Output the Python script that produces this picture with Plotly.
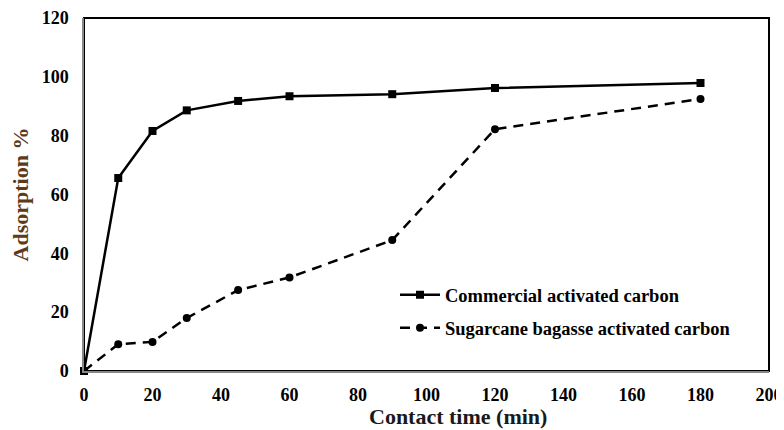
import plotly.graph_objects as go

time_min = [0, 10, 20, 30, 45, 60, 90, 120, 180]
commercial = [0, 65.6, 81.6, 88.6, 91.8, 93.4, 94.1, 96.2, 97.9]
sugarcane = [0, 9.1, 9.9, 18.0, 27.5, 31.8, 44.5, 82.2, 92.5]
series_names = ["Commercial activated carbon", "Sugarcane bagasse activated carbon"]
x_ticks = [0, 20, 40, 60, 80, 100, 120, 140, 160, 180, 200]
y_ticks = [0, 20, 40, 60, 80, 100, 120]
x_title = "Contact time (min)"
y_title = "Adsorption %"

font_family = "Liberation Serif, Times New Roman, serif"

fig = go.Figure()
fig.add_trace(go.Scatter(
    x=time_min, y=commercial, name=series_names[0], mode="lines+markers",
    legendgroup="a",
    line=dict(color="black", width=2.5),
    marker=dict(symbol="square", size=8, color="black"),
    cliponaxis=False,
))
fig.add_trace(go.Scatter(
    x=time_min, y=sugarcane, name=series_names[1], mode="lines+markers",
    legendgroup="b",
    line=dict(color="black", width=2.5, dash="10px,7px"),
    marker=dict(symbol="circle", size=8, color="black"),
    cliponaxis=False,
))

fig.add_shape(type="rect", xref="paper", yref="paper", x0=0, y0=0, x1=1, y1=1,
              line=dict(color="black", width=2), layer="below")

fig.add_annotation(
    text=x_title, xref="paper", yref="paper", x=0.546, y=-0.128,
    xanchor="center", yanchor="middle", showarrow=False,
    font=dict(family=font_family, size=22, color="#1a1a1a", weight="bold"),
)

# the page body has an 8px default margin, so the figure is sized/offset for it
fig.update_layout(
    width=776, height=422,
    margin=dict(l=76, r=15, t=10, b=59),
    paper_bgcolor="white", plot_bgcolor="white",
    font=dict(family=font_family, color="black", size=18),
    showlegend=True,
    legend=dict(
        x=0.454, y=0.168, xanchor="left", yanchor="middle",
        font=dict(family=font_family, size=18.5, color="black", weight="bold"),
        bgcolor="rgba(0,0,0,0)", tracegroupgap=6, itemwidth=40,
    ),
)
fig.update_xaxes(
    range=[0, 200], tickvals=x_ticks, ticktext=[str(v) for v in x_ticks],
    showgrid=False, zeroline=False, showline=True, linecolor="#888888", linewidth=1.5,
    ticks="", automargin=False, ticklabelstandoff=7,
    tickfont=dict(family=font_family, size=18, color="black", weight="bold"),
)
fig.update_yaxes(
    range=[0, 120], tickvals=y_ticks, ticktext=[str(v) for v in y_ticks],
    showgrid=False, zeroline=False, showline=True, linecolor="#888888", linewidth=1.5,
    ticks="", ticklabelstandoff=10, automargin=False,
    tickfont=dict(family=font_family, size=18, color="black", weight="bold"),
    title=dict(text=y_title, standoff=8,
               font=dict(family=font_family, size=22, color="#5c3a1a", weight="bold")),
)

fig.write_html("out.html")
